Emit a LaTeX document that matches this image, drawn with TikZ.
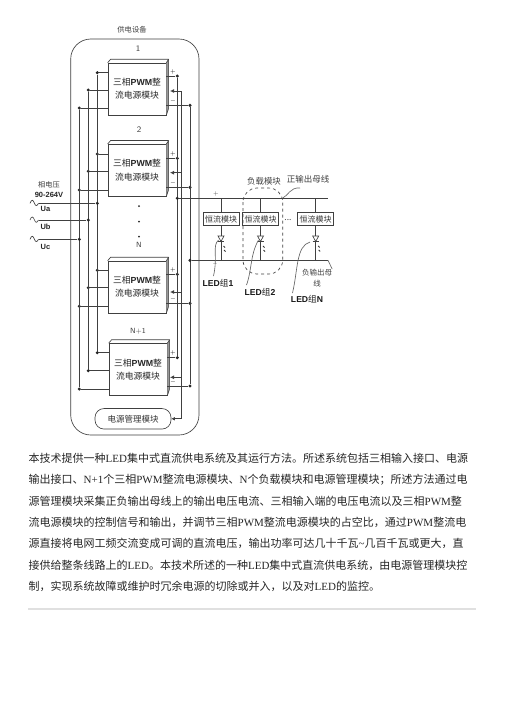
\documentclass[tikz,border=0pt]{standalone}
\usepackage{fontspec}
\setmainfont{Noto Sans CJK SC}
\newfontfamily\latserif{Liberation Serif}
\newfontfamily\latsans{Liberation Sans}
\usetikzlibrary{arrows.meta}
\newcommand{\lat}[1]{{\latserif #1}}
\newcommand{\sanb}[1]{{\latsans\bfseries #1}}
\newcommand{\fsz}[1]{\fontsize{#1}{#1}\selectfont}
\XeTeXlinebreaklocale "zh"
\XeTeXlinebreakskip=0pt plus 2pt minus 1pt
\tikzset{
line/.style={draw=black!75, line width=0.65pt},
dot/.style={circle, fill=black!85, inner sep=0pt, minimum size=3.4pt},
rectmod/.style={line, fill=white, minimum width=58pt, minimum height=52pt, inner sep=0pt, align=center, text=black!85, font=\fsz{8.8}},
ccbox/.style={line, fill=white, minimum width=36pt, minimum height=12.5pt, inner sep=0pt, text=black!80, font=\fsz{8}},
lbl/.style={inner sep=0pt, text=black!75, font=\fsz{8.4}},
ledlbl/.style={inner sep=0pt, text=black!90, font=\fsz{8.6}},
inlbl/.style={inner sep=0pt, text=black!85, font=\fsz{7.5}\latsans\bfseries},
para/.style={anchor=west, inner sep=0pt, text=black!85, font=\fsz{11}},
}
\newcommand{\bodyline}[4]{\node[para] (#1) at (28.5,#2) {\hbox to #3pt{#4}};}
\begin{document}
\begin{tikzpicture}[x=1pt,y=-1pt]
\fill[white] (0,0) rectangle (504,713);
\useasboundingbox (0,0) rectangle (504,713);
% supply cabinet
\draw[line, rounded corners=20pt] (70.7,39) rectangle (199,435);
\node[lbl, font=\fsz{7.3}] (title) at (132,29.3) {供电设备};
\node[lbl] (n1) at (138,49) {\sffamily 1};
\node[lbl] (n2) at (139,130) {\sffamily 2};
\node[lbl, font=\fsz{7.5}\sffamily] (nN) at (139,245) {N};
\node[lbl, font=\fsz{7.5}\sffamily] (nN1) at (138,331.7) {N+1};
\foreach \y [count=\i] in {206,221.7,236.7} {
\node[dot, minimum size=2pt] (vd\i) at (139,\y) {};
}
% rectifier modules
\foreach \m/\xc/\yc/\ia/\ib/\ic/\oa/\ob/\oc/\sa/\sb in
{1/137/89/72.7/90/108/76/91/105.3/$+$/$-$,
2/137/170.3/154/171.3/190/158.3/172.7/187.3/$+$/$-$,
3/137/287/270.3/287.7/306.3/274.3/292/303.3/$+$/$-$,
4/138/369.5/352.7/370.7/389/357.7/377.3/386/$+$/$-$} {
\node[rectmod] (mod\m) at (\xc,\yc) {三相\sanb{PWM}整\\[4.5pt]流电源模块};
\fill[black!35] (mod\m.north east) -- ++(2.5,-3.5) -- ++(0,50) -- (mod\m.south east) -- cycle;
\draw[line] (mod\m.north west) -- ++(3,-3.5) -- ++(57.5,0) -- ++(0,50) -- (mod\m.south east);
\draw[line] (mod\m.north east) -- ++(2.5,-3.5);
\node[dot] (ina\m) at (97.3,\ia) {};
\node[dot] (inb\m) at (88.3,\ib) {};
\node[dot] (inc\m) at (79.3,\ic) {};
\draw[line] (ina\m) -- (mod\m.west |- ina\m);
\draw[line] (inb\m) -- (mod\m.west |- inb\m);
\draw[line] (inc\m) -- (mod\m.west |- inc\m);
\node[dot] (outa\m) at (177.3,\oa) {};
\coordinate (outb\m) at (181.3,\ob);
\node[dot] (outc\m) at (190,\oc) {};
\draw[line] (outa\m) -- (mod\m.east |- outa\m);
\draw[line] (outc\m) -- (mod\m.east |- outc\m);
\draw[line, line width=1pt, -{Latex[length=4pt,width=4pt]}] (outb\m) -- (170,\ob);
\node[lbl, text=black, font=\fsz{6}] (plus\m) at (173,\oa-4.5) {\sa};
\node[lbl, text=black, font=\fsz{6}] (minus\m) at (173,\oc-4) {\sb};
}
% vertical rails
\draw[line] (ina1) -- (ina4);
\draw[line] (inb1) -- (inb4);
\draw[line] (inc1) -- (inc4);
\draw[line] (outa1) -- (outa4);
\draw[line] (outc1) -- (outc4);
% management module
\node[line, rounded corners=9pt, minimum width=76pt, minimum height=20.5pt, inner sep=0pt, text=black!80, font=\fsz{8.5}] (mgmt) at (133,418.8) {电源管理模块};
\coordinate (barend) at (181.3,418.8);
\draw[line, line width=1pt] (outb1) -- (barend);
\draw[line, -{Latex[length=3.5pt,width=3.5pt]}] (barend) -- (mgmt.east);
% three phase input
\node[lbl, font=\fsz{7.2}] (phv) at (49,184.7) {相电压};
\node[inlbl] (volt) at (49,195) {90-264V};
\foreach \p/\yy/\rail/\ylab in {a/203.3/ina1/209, b/220/inb1/226.7, c/239.3/inc1/247} {
\coordinate (ti\p) at (38.5,\yy);
\draw[line] (30,\yy) .. controls (31.5,\yy-4) and (33,\yy-4) .. (34.5,\yy) .. controls (35.5,\yy+3) and (37,\yy+3) .. (ti\p);
\node[dot] (ph\p) at (\rail |- ti\p) {};
\draw[line] (ti\p) -- (ph\p);
}
\node[inlbl] (ua) at (45.5,209) {Ua};
\node[inlbl] (ub) at (45.5,226.7) {Ub};
\node[inlbl] (uc) at (45.5,247) {Uc};
% output buses
\node[dot] (pbus) at (177.3,198.3) {};
\node[dot] (nbus) at (190,260.3) {};
\coordinate (pend) at (328,198.3);
\coordinate (nend) at (328,260.3);
\draw[line] (pbus) -- (pend);
\draw[line] (nbus) -- (nend);
\node[lbl, font=\fsz{6}] (pmark) at (216,193.5) {$+$};
\node[lbl, font=\fsz{5}] (nmark) at (215,264.5) {$-$};
% loads
\foreach \k/\xx in {1/221,2/260.5,3/315.7} {
\node[ccbox] (cc\k) at (\xx,219) {恒流模块};
\coordinate (tp\k) at (\xx,198.3);
\coordinate (bt\k) at (\xx,260.3);
\draw[line] (tp\k) -- (cc\k);
\draw[line] (cc\k) -- (bt\k);
\draw[line, fill=white] (\xx-3,236) -- (\xx+3,236) -- (\xx,241.5) -- cycle;
\draw[line] (\xx-3,241.5) -- (\xx+3,241.5);
\draw[line, line width=0.8pt, black!80] (\xx+2.5,246) -- (\xx+4,247.5) (\xx+3,250) -- (\xx+4.5,251.5);
}
\node[lbl] (dots) at (288,220) {...};
\draw[line, dashed, rounded corners=14pt] (243,188) rectangle (282.7,274);
\node[lbl] (load) at (264,181.7) {负载模块};
\node[lbl, font=\fsz{8.5}] (posbus) at (308,179) {正输出母线};
\coordinate (loadtop) at (282.7,198);
\draw[line, black!60] (loadtop) .. controls (288,196) and (290,187) .. (300,188);
\node[lbl, font=\fsz{7.5}] (negbus) at (317,272.7) {负输出母};
\node[lbl, font=\fsz{7.5}] (negbus2) at (317,284) {线};
\draw[line, black!60] (nend) -- (negbus.north east);
% LED groups
\node[ledlbl] (led1) at (218,283) {\sanb{LED}组\sanb{1}};
\node[ledlbl] (led2) at (260,292) {\sanb{LED}组\sanb{2}};
\node[ledlbl] (ledN) at (307,299) {\sanb{LED}组\sanb{N}};
\draw[line, black!60] (218.5,240) .. controls (212,246) and (218,256) .. (213.5,276);
\draw[line, black!60] (258.5,240) .. controls (250,255) and (252,270) .. (246.5,285);
\draw[line, black!60] (310,242) .. controls (296,246) and (298,270) .. (292.5,293);
% description text
\bodyline{pa}{458}{445}{本技术提供一种\lat{LED}集中式直流供电系统及其运行方法。所述系统包括三相输入接口、电源}
\bodyline{pb}{479.3}{445}{输出接口、\lat{N+1}个三相\lat{PWM}整流电源模块、\lat{N}个负载模块和电源管理模块；所述方法通过电}
\bodyline{pc}{501}{439}{源管理模块采集正负输出母线上的输出电压电流、三相输入端的电压电流以及三相\lat{PWM}整}
\bodyline{pd}{522}{443}{流电源模块的控制信号和输出，并调节三相\lat{PWM}整流电源模块的占空比，通过\lat{PWM}整流电}
\bodyline{pe}{543.7}{442}{源直接将电网工频交流变成可调的直流电压，输出功率可达几十千瓦\lat{\textasciitilde}几百千瓦或更大，直}
\bodyline{pf}{565}{444}{接供给整条线路上的\lat{LED}。本技术所述的一种\lat{LED}集中式直流供电系统，由电源管理模块控}
\bodyline{pg}{586}{350}{制，实现系统故障或维护时冗余电源的切除或并入，以及对\lat{LED}的监控。}
\draw[black!12, line width=1.8pt] (28,609) -- (476,609);
\end{tikzpicture}
\end{document}
